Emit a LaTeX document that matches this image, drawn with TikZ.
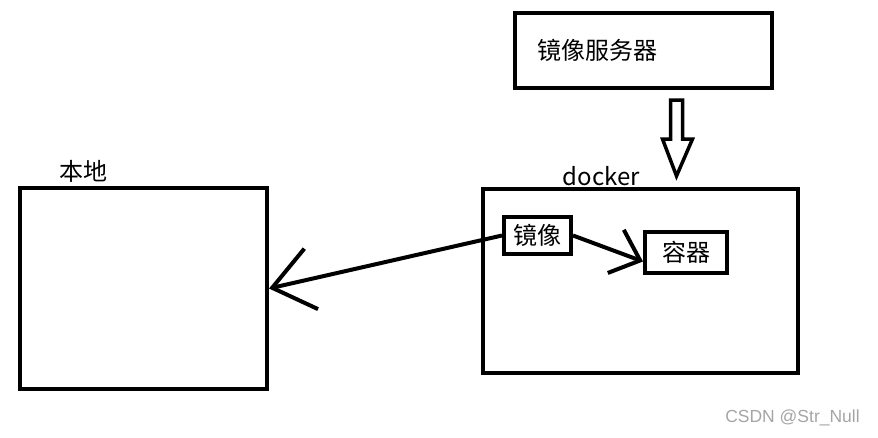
\documentclass[tikz,border=0pt]{standalone}
\usepackage{fontspec}
\usepackage{tikz}
\usetikzlibrary{arrows.meta,positioning,calc}
\newfontfamily\cjk{Noto Sans CJK SC}
\newfontfamily\wmfont{Liberation Sans}
\definecolor{wmgray}{RGB}{165,165,165}

\begin{document}
\begin{tikzpicture}[x=1pt,y=-1pt,line width=4pt,
  every node/.style={align=center,font=\cjk\fontsize{24}{28}\selectfont},
  box/.style={draw,line width=4pt,inner sep=0pt}]
  \useasboundingbox (0,0) rectangle (878,437);
  % boxes
  \node[box,minimum width=257pt,minimum height=75pt,text width=213pt,align=left] (server) at (643.5,50.5) {镜像服务器};
  \node[box,minimum width=315pt,minimum height=184pt] (docker) at (640.5,281) {};
  \node[box,minimum width=247pt,minimum height=201pt] (local) at (143.5,288.5) {};
  \node[box,minimum width=67pt,minimum height=37pt] (image) at (537.5,235.5) {镜像};
  \node[box,minimum width=82pt,minimum height=41pt] (container) at (686,252.5) {容器};
  % labels
  \node[inner sep=0pt] (dockerlabel) at (601.5,176) {docker};
  \node[inner sep=0pt] (locallabel) at (83.5,171) {本地};
  \node[inner sep=0pt,font=\wmfont\fontsize{17.5}{19}\selectfont,text=wmgray] (mark) at (792.5,418) {CSDN @Str\_Null};
  % pull from server
  \coordinate (pull) at ($(server.south)+(33,10)$);
  \draw[line width=3.5pt,line join=miter] (pull) ++(-6,0) -- ++(12,0) -- ++(0,39) -- ++(10,0)
    -- ++(-16,37) -- ++(-14,-37) -- ++(8,0) -- cycle;
  % arrows
  \draw[-{Straight Barb[length=26pt,width=46pt]}] (image.east) -- ([yshift=-9pt]container.west);
  \draw[-{Straight Barb[length=40pt,width=62pt]}] (image.west) -- (local.east);
\end{tikzpicture}
\end{document}
